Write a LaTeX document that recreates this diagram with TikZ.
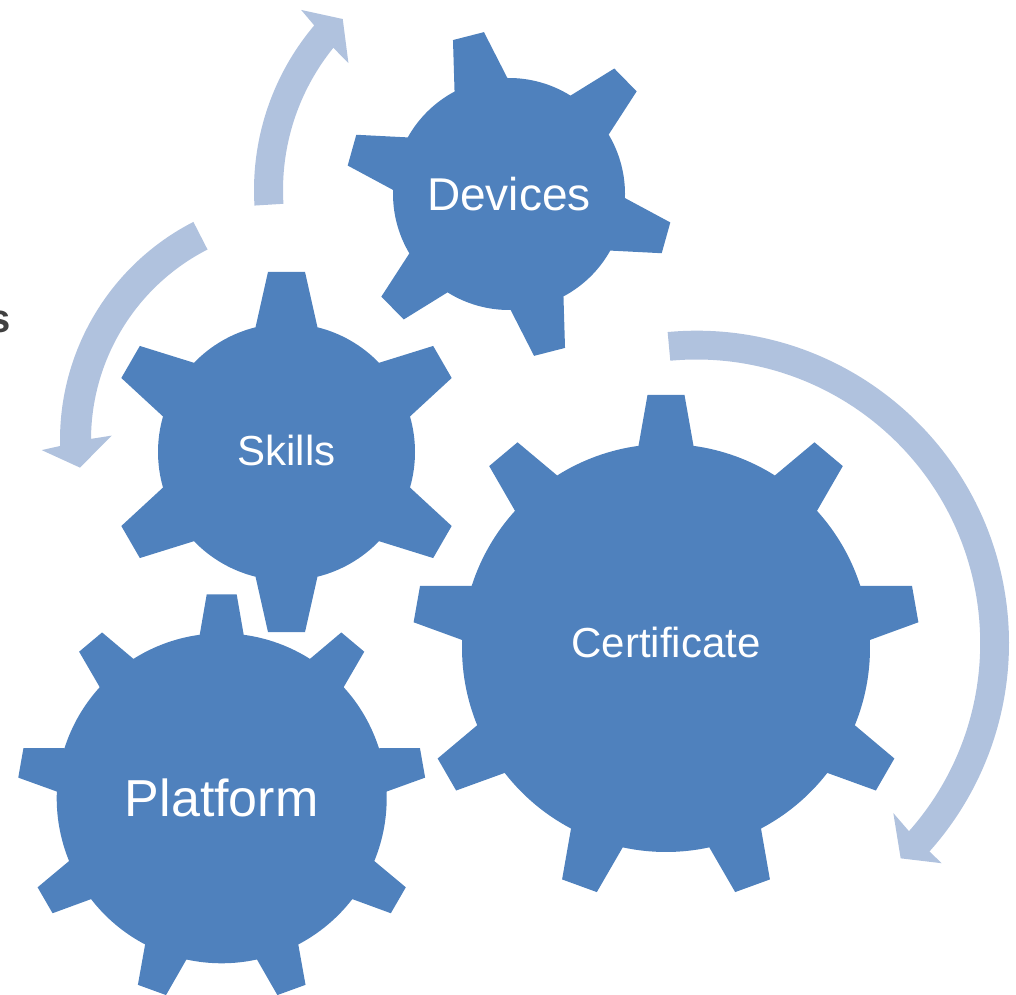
\documentclass[tikz,border=0pt]{standalone}
\usepackage{fontspec}
\setmainfont{Liberation Sans}
\usepackage{tikz}
\usetikzlibrary{calc}
\definecolor{gearblue}{HTML}{4F81BD}
\definecolor{turnblue}{HTML}{B0C2DE}
\definecolor{darkgray}{HTML}{404040}
% center, body radius, tip radius, teeth, first tooth, base half angle, tip half angle
\newcommand{\cogwheel}[7]{%
  \fill[gearplace,shift={(#1)}] (#5+#6:#2)
    \foreach \k in {1,...,#4}{
      arc[start angle=#5+(\k-1)*360/#4+#6, delta angle=360/#4-2*#6, radius=#2]
      -- (#5+\k*360/#4-#7:#3) -- (#5+\k*360/#4+#7:#3) -- (#5+\k*360/#4+#6:#2)
    } -- cycle;}
\tikzset{
  gearplace/.style={fill=gearblue},
  turnplace/.style={fill=turnblue},
  gearlabel/.style={text=white,inner sep=0pt,font=\fontsize{42}{46}\selectfont},
  biglabel/.style={gearlabel,font=\fontsize{#1}{#1}\selectfont}
}

\begin{document}
\begin{tikzpicture}[x=1pt,y=1pt]
  \useasboundingbox (0,0) rectangle (1016,994);
  \clip (0,0) rectangle (1016,994);

  \coordinate (dc) at (509,800);
  \coordinate (sc) at (286.5,542);
  \coordinate (cc) at (666,346);
  \coordinate (pc) at (221.7,195.7);
  \coordinate (ta) at (509,804);
  \coordinate (la) at (305,554);
  \coordinate (ra) at (696.5,350.8);

  % turning arrows
  \fill[turnplace,shift={(ta)}] (183.5:255) arc[start angle=183.5,end angle=139.8,radius=255]
    -- (139.1:275) -- (134.2:238.5) -- (141.7:204.6) -- (141:226)
    arc[start angle=141,end angle=183.5,radius=226] -- cycle;
  \fill[turnplace,shift={(la)}] (117.1:245) arc[start angle=117.1,end angle=181.4,radius=245]
    -- (182.2:263.5) -- (187:226.7) -- (178.7:193.4) -- (179.7:214)
    arc[start angle=179.7,end angle=117.1,radius=214] -- cycle;
  \fill[turnplace,shift={(ra)}] (95.3:312.5) arc[start angle=95.3,end angle=-41.8,radius=312.5]
    -- (-41.9:329.5) -- (-46.5:296.6) -- (-40.8:260) -- (-41.5:283.7)
    arc[start angle=-41.5,end angle=95.3,radius=283.7] -- cycle;

  % gears
  \cogwheel{dc}{116}{163.8}{6}{104.4}{13.6}{5.6}
  \cogwheel{sc}{128.5}{181}{6}{90}{13.95}{5.87}
  \cogwheel{cc}{204}{253.7}{9}{90}{7.75}{4.18}
  \cogwheel{pc}{165}{204.5}{9}{90}{7.66}{4.2}

  \node[biglabel=46] (devices) at (dc) {Devices};
  \node[gearlabel,yshift=1.5] (skills) at (sc) {Skills};
  \node[gearlabel,yshift=6] (cert) at (cc) {Certificate};
  \node[biglabel=52] (platform) at (pc) {Platform};

  \node[anchor=base east,inner sep=0pt,text=darkgray,font=\fontsize{40}{40}\selectfont\bfseries] (cut) at (10.5,661) {s};
\end{tikzpicture}
\end{document}
